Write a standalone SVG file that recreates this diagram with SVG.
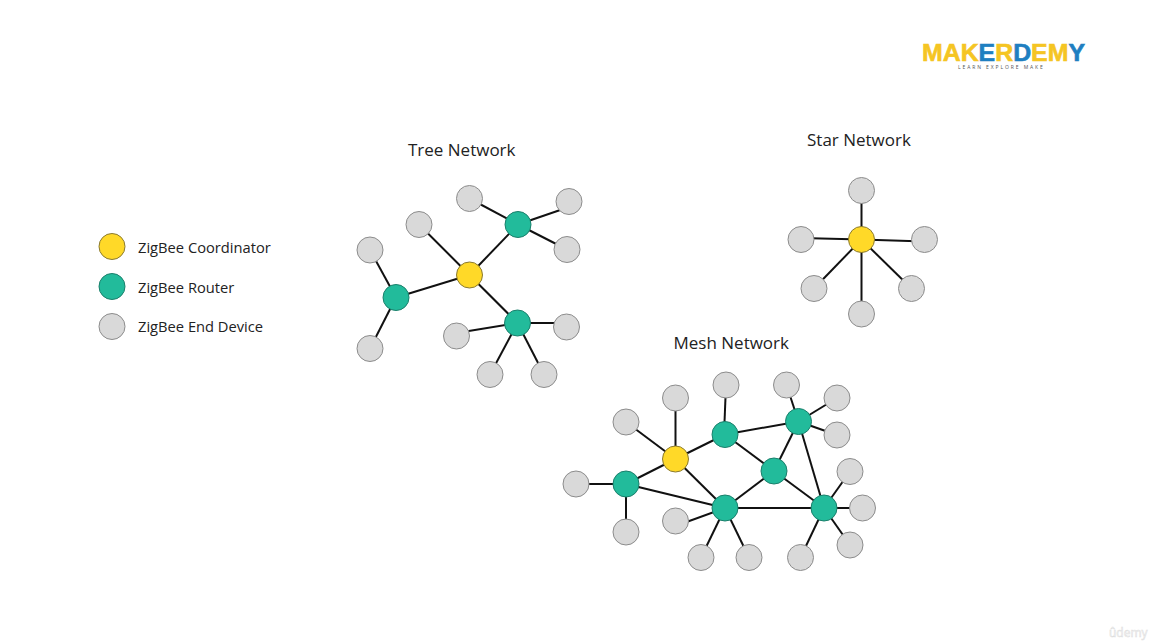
<svg xmlns="http://www.w3.org/2000/svg" width="1150" height="642" viewBox="0 0 1150 642">
<style>
.n{stroke-width:1;stroke:#7f7f7f}
.y{fill:#ffd928;stroke:#8a7a30}
.t{fill:#22bb9b;stroke:#1a7f6b}
.g{fill:#d9d9d9;stroke:#8c8c8c}
#connectors line{stroke:#111;stroke-width:2}
text{font-family:"Open Sans","Noto Sans","Liberation Sans",sans-serif;fill:#222}
.title{font-size:17px}
.leg{font-size:14.7px}
</style>
<rect width="1150" height="642" fill="#fff"/>
<g id="logo">
<text x="922" y="61" font-size="23.5" font-weight="700" textLength="163" lengthAdjust="spacingAndGlyphs" stroke-width=".6" style="font-family:'Liberation Sans',sans-serif;fill:#f5c523"><tspan fill="#f5c523" stroke="#f5c523">MAK</tspan><tspan fill="#1f7fc1" stroke="#1f7fc1">E</tspan><tspan fill="#f5c523" stroke="#f5c523">R</tspan><tspan fill="#1f7fc1" stroke="#1f7fc1">D</tspan><tspan fill="#f5c523" stroke="#f5c523">EM</tspan><tspan fill="#1f7fc1" stroke="#1f7fc1">Y</tspan></text>
<text x="958" y="69" font-size="5" letter-spacing="1.9" style="fill:#555">LEARN EXPLORE MAKE</text>
</g>
<g id="udemy"><text x="1109" y="637" font-size="12" stroke="#dcdcdc" stroke-width=".5" style="fill:#fafafa">ûdemy</text></g>
<g id="connectors">
<!-- tree -->
<line x1="469.5" y1="275" x2="419" y2="224.5"/><line x1="469.5" y1="275" x2="518" y2="224.5"/><line x1="469.5" y1="275" x2="396" y2="297.5"/><line x1="469.5" y1="275" x2="517.5" y2="323"/>
<line x1="518" y1="224.5" x2="469.5" y2="198.5"/><line x1="518" y1="224.5" x2="569" y2="207"/><line x1="518" y1="224.5" x2="567" y2="249.5"/>
<line x1="396" y1="297.5" x2="370" y2="250"/><line x1="396" y1="297.5" x2="370" y2="348.5"/>
<line x1="517.5" y1="323" x2="456.5" y2="333"/><line x1="517.5" y1="323" x2="566.5" y2="323"/><line x1="517.5" y1="323" x2="490" y2="374.5"/><line x1="517.5" y1="323" x2="544" y2="374.5"/>
<!-- star -->
<line x1="861.5" y1="239.5" x2="861.5" y2="190.5"/><line x1="861.5" y1="239.5" x2="801" y2="238"/><line x1="861.5" y1="239.5" x2="924.5" y2="241.5"/><line x1="861.5" y1="239.5" x2="814" y2="288.5"/><line x1="861.5" y1="239.5" x2="911.5" y2="288.5"/><line x1="861.5" y1="239.5" x2="861.5" y2="314"/>
<!-- mesh -->
<line x1="675.5" y1="459" x2="626" y2="422"/><line x1="675.5" y1="459" x2="675.5" y2="398"/><line x1="675.5" y1="459" x2="725" y2="434.5"/><line x1="675.5" y1="459" x2="626" y2="484"/><line x1="675.5" y1="459" x2="725" y2="508"/>
<line x1="724" y1="434.5" x2="726" y2="385"/><line x1="725" y1="434.5" x2="798.5" y2="421.5"/><line x1="725" y1="434.5" x2="774" y2="471"/>
<line x1="798.5" y1="421.5" x2="786.5" y2="385"/><line x1="798.5" y1="421.5" x2="837" y2="398"/><line x1="798.5" y1="421.5" x2="837" y2="435"/><line x1="798.5" y1="421.5" x2="774" y2="471"/><line x1="798.5" y1="421.5" x2="824" y2="508"/>
<line x1="774" y1="471" x2="725" y2="508"/><line x1="774" y1="471" x2="824" y2="508"/>
<line x1="626" y1="484" x2="576" y2="484"/><line x1="626" y1="484" x2="626" y2="532"/><line x1="626" y1="484" x2="725" y2="508"/>
<line x1="725" y1="508" x2="824" y2="508"/><line x1="725" y1="508" x2="675.5" y2="526"/><line x1="725" y1="508" x2="701" y2="557.5"/><line x1="725" y1="508" x2="749" y2="557.5"/>
<line x1="824" y1="508" x2="850" y2="471.5"/><line x1="824" y1="508" x2="862.5" y2="508"/><line x1="824" y1="508" x2="850" y2="545"/><line x1="824" y1="508" x2="800.5" y2="557.5"/>
</g>
<g id="legend">
<g id="legend-coordinator"><circle class="y" cx="112" cy="246.5" r="13"/><text class="leg" x="138" y="252.5">ZigBee Coordinator</text></g>
<g id="legend-router"><circle class="t" cx="112" cy="286.5" r="13"/><text class="leg" x="138" y="292.5">ZigBee Router</text></g>
<g id="legend-end"><circle class="g" cx="112" cy="326.5" r="13"/><text class="leg" x="138" y="332">ZigBee End Device</text></g>
</g>
<text class="title" x="408" y="155.5">Tree Network</text>
<text class="title" x="807" y="146">Star Network</text>
<text class="title" x="673.5" y="348.5">Mesh Network</text>
<g id="tree">
<circle id="t1" class="g" cx="469.5" cy="198.5" r="13"/><circle id="t2" class="g" cx="569" cy="201.5" r="13"/><circle id="t3" class="g" cx="419" cy="224.5" r="13"/><circle id="t4" class="g" cx="567" cy="249.5" r="13"/><circle id="t5" class="g" cx="370" cy="250" r="13"/><circle id="t6" class="g" cx="456.5" cy="336" r="13"/><circle id="t7" class="g" cx="566.5" cy="327" r="13"/><circle id="t8" class="g" cx="370" cy="348.5" r="13"/><circle id="t9" class="g" cx="490" cy="374.5" r="13"/><circle id="t10" class="g" cx="544" cy="374.5" r="13"/>
<circle id="t11" class="t" cx="518" cy="224.5" r="13"/><circle id="t12" class="t" cx="396" cy="297.5" r="13"/><circle id="t13" class="t" cx="517.5" cy="323" r="13"/><circle id="t14" class="y" cx="469.5" cy="275" r="13"/>
</g>
<g id="star">
<circle id="s1" class="g" cx="861.5" cy="190.5" r="13"/><circle id="s2" class="g" cx="801" cy="239.5" r="13"/><circle id="s3" class="g" cx="924.5" cy="239.5" r="13"/><circle id="s4" class="g" cx="814" cy="288.5" r="13"/><circle id="s5" class="g" cx="911.5" cy="288.5" r="13"/><circle id="s6" class="g" cx="861.5" cy="314" r="13"/><circle id="s7" class="y" cx="861.5" cy="239.5" r="13"/>
</g>
<g id="mesh">
<circle id="m1" class="g" cx="626" cy="422" r="13"/><circle id="m2" class="g" cx="675.5" cy="398" r="13"/><circle id="m3" class="g" cx="726" cy="385" r="13"/><circle id="m4" class="g" cx="786.5" cy="385" r="13"/><circle id="m5" class="g" cx="837" cy="398" r="13"/><circle id="m6" class="g" cx="837" cy="435" r="13"/><circle id="m7" class="g" cx="850" cy="471.5" r="13"/><circle id="m8" class="g" cx="862.5" cy="508" r="13"/><circle id="m9" class="g" cx="850" cy="545" r="13"/><circle id="m10" class="g" cx="800.5" cy="557.5" r="13"/><circle id="m11" class="g" cx="749" cy="557.5" r="13"/><circle id="m12" class="g" cx="701" cy="557.5" r="13"/><circle id="m13" class="g" cx="675.5" cy="521" r="13"/><circle id="m14" class="g" cx="626" cy="532" r="13"/><circle id="m15" class="g" cx="576" cy="484" r="13"/>
<circle id="m16" class="t" cx="626" cy="484" r="13"/><circle id="m17" class="t" cx="725" cy="434.5" r="13"/><circle id="m18" class="t" cx="798.5" cy="421.5" r="13"/><circle id="m19" class="t" cx="774" cy="471" r="13"/><circle id="m20" class="t" cx="725" cy="508" r="13"/><circle id="m21" class="t" cx="824" cy="508" r="13"/><circle id="m22" class="y" cx="675.5" cy="459" r="13"/>
</g>
</svg>
